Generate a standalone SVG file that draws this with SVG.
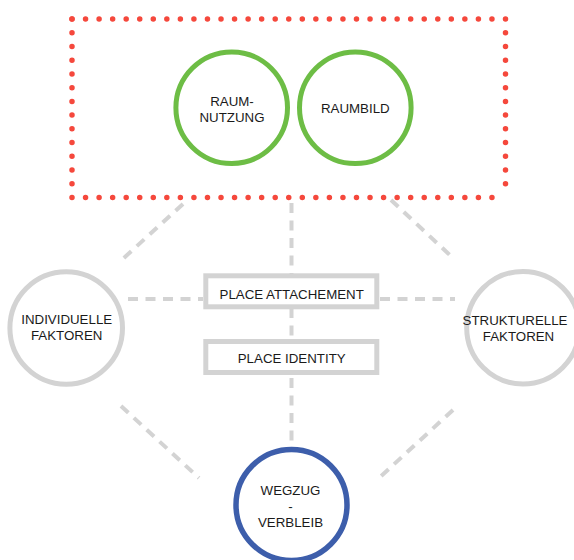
<svg xmlns="http://www.w3.org/2000/svg" width="574" height="560" viewBox="0 0 574 560">
  <style>
    .label { font-family: "Liberation Sans", Arial, sans-serif; font-size: 13.3px; fill: #1a1a1a; text-anchor: middle; }
    .dots { fill: none; stroke: #f5483c; stroke-width: 5.5; stroke-linecap: round; }
    .link { fill: none; stroke: #d3d3d3; stroke-width: 4; stroke-dasharray: 10 7.5; }
    .ring-green { fill: #fff; stroke: #6dbd45; stroke-width: 5; }
    .ring-gray { fill: #fff; stroke: #d3d3d3; stroke-width: 5; }
    .ring-blue { fill: #fff; stroke: #3d5eab; stroke-width: 5.5; }
    .box { fill: #fff; stroke: #d3d3d3; stroke-width: 5; }
  </style>

  <!-- dashed connectors -->
  <g id="connectors">
    <line class="link" x1="291.5" y1="203" x2="291.5" y2="447"/>
    <line class="link" x1="183" y1="204" x2="120.5" y2="261"/>
    <line class="link" x1="391" y1="200" x2="453" y2="258"/>
    <line class="link" x1="128" y1="299" x2="203" y2="299"/>
    <line class="link" x1="380" y1="299" x2="455" y2="299"/>
    <line class="link" x1="121" y1="406" x2="199" y2="478"/>
    <line class="link" x1="453" y1="410" x2="379" y2="478"/>
  </g>

  <!-- red dotted frame around the spatial pair -->
  <g id="frame">
    <line class="dots" x1="72" y1="19" x2="505.5" y2="19" stroke-dasharray="0 13.547"/>
    <line class="dots" x1="72" y1="197.5" x2="505.5" y2="197.5" stroke-dasharray="0 13.547"/>
    <line class="dots" x1="72" y1="19" x2="72" y2="197.5" stroke-dasharray="0 13.731"/>
    <line class="dots" x1="505.5" y1="19" x2="505.5" y2="197.5" stroke-dasharray="0 13.731"/>
  </g>

  <g id="raumnutzung">
    <circle class="ring-green" cx="231.7" cy="107.7" r="55.8"/>
    <text class="label" x="232" y="105.7">RAUM-</text>
    <text class="label" x="232" y="121.7">NUTZUNG</text>
  </g>

  <g id="raumbild">
    <circle class="ring-green" cx="355.3" cy="107.7" r="55.8"/>
    <text class="label" x="355.3" y="113.3">RAUMBILD</text>
  </g>

  <g id="individuelle-faktoren">
    <circle class="ring-gray" cx="66.2" cy="328" r="56.3"/>
    <text class="label" x="66.7" y="324.3">INDIVIDUELLE</text>
    <text class="label" x="66.7" y="340.3">FAKTOREN</text>
  </g>

  <g id="strukturelle-faktoren">
    <circle class="ring-gray" cx="523" cy="327.7" r="56.3"/>
    <text class="label" x="515" y="325.3">STRUKTURELLE</text>
    <text class="label" x="518.5" y="341">FAKTOREN</text>
  </g>

  <g id="place-attachement">
    <rect class="box" x="205.8" y="275.8" width="171" height="31"/>
    <text class="label" x="291.7" y="299.3">PLACE ATTACHEMENT</text>
  </g>

  <g id="place-identity">
    <rect class="box" x="205.8" y="341.5" width="171" height="31"/>
    <text class="label" x="291.7" y="362.7">PLACE IDENTITY</text>
  </g>

  <g id="wegzug-verbleib">
    <circle class="ring-blue" cx="291.5" cy="505" r="55.5"/>
    <text class="label" x="290.5" y="495">WEGZUG</text>
    <text class="label" x="290.5" y="511">-</text>
    <text class="label" x="290.5" y="526.5">VERBLEIB</text>
  </g>
</svg>
